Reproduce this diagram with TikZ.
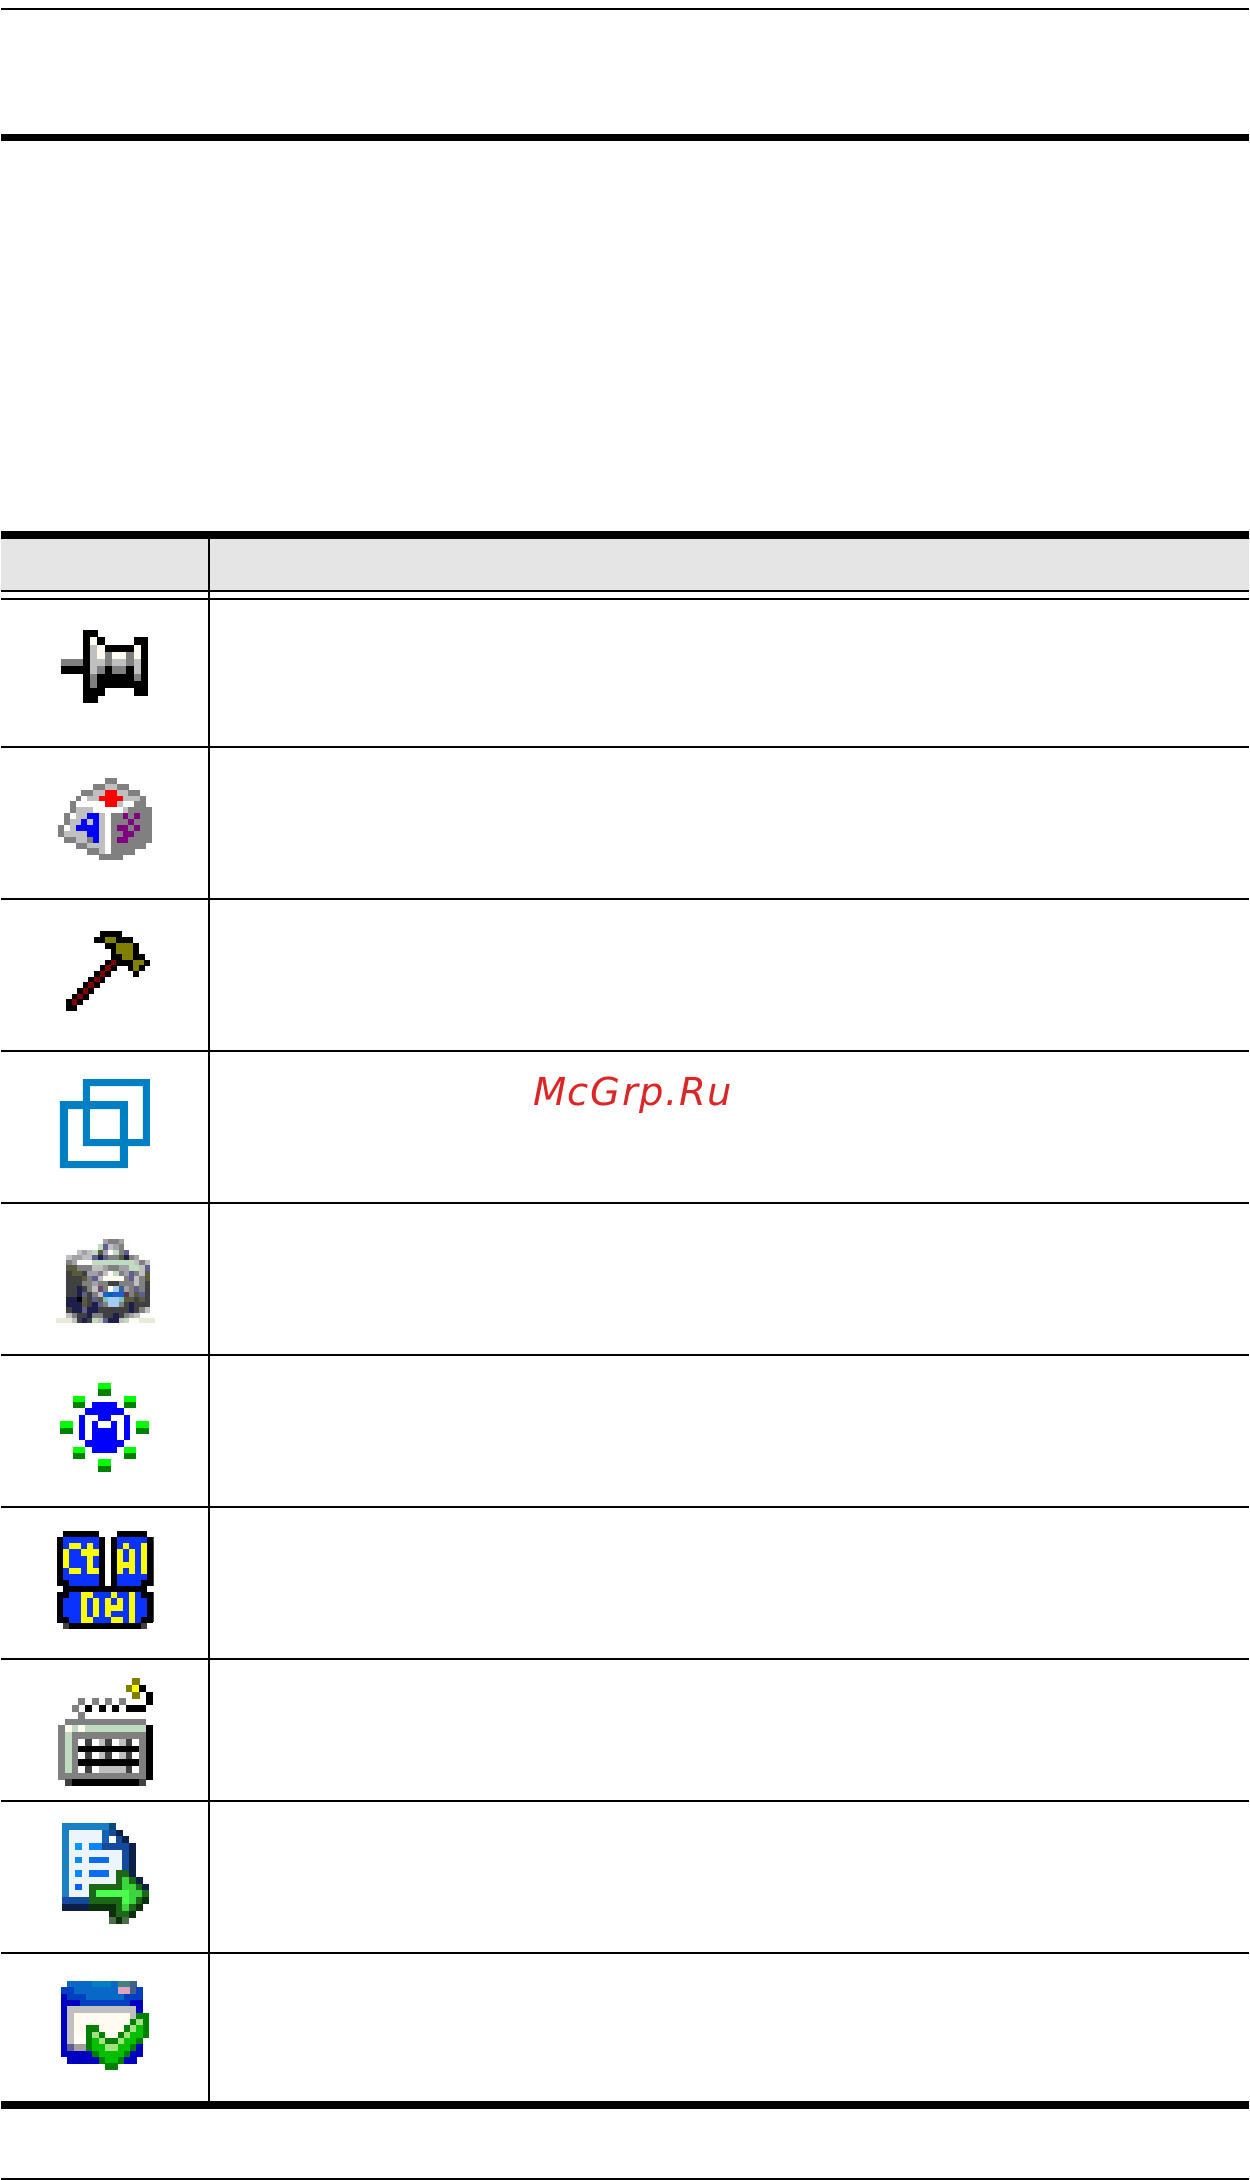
\documentclass[tikz,border=0pt]{standalone}
\usepackage{fontspec}
\newfontfamily\wmfont[LetterSpace=4.0]{DejaVu Sans}
\newcount\pxc
\newcount\pyc
\def\pxnext#1{\ifx#1\relax\else\if#1.\else\fill[fill=px#1] (\the\pxc,\the\pyc) rectangle +(1.04,1.04);\fi\advance\pxc by 1 \expandafter\pxnext\fi}
\def\pr#1{\pxc=0 \pxnext#1\relax\advance\pyc by 1 }
\newcommand\pal[2]{\definecolor{px#1}{HTML}{#2}}
\newcommand\zr[5]{\fill[fill=#1] (#2,#3) rectangle (#4,#5);}
\tikzset{
  rulefill/.style={fill=black},
  icongrid/.style args={#1/#2/#3/#4}{shift={(#1pt,-#2pt)},x=#3pt,y=-#4pt},
  zoomgrid/.style={shift={(0pt,-#1pt)},x=0.33333pt,y=-0.33333pt},
  watermark/.style={anchor=base west,inner sep=0pt,text=wmred,font=\wmfont\itshape\fontsize{38.5}{40}\selectfont}
}
\definecolor{wmred}{HTML}{DC2626}
\definecolor{headgray}{HTML}{E5E5E5}
\definecolor{winblue}{HTML}{0080C4}
\definecolor{ledhi}{HTML}{00FF00}
\definecolor{ledlo}{HTML}{008000}
\definecolor{ledblue}{HTML}{0000FF}
\begin{document}
\begin{tikzpicture}[x=1pt,y=-1pt]
\useasboundingbox (0,0) rectangle (1250,2180);
\fill[white] (0,0) rectangle (1250,2180);
% page rules
\fill[rulefill] (1,8) rectangle (1249,10);
\fill[rulefill] (1,134) rectangle (1249,141);
\fill[rulefill] (1,2178) rectangle (1249,2180);
% table
\fill[headgray] (1,538) rectangle (1249,590);
\fill[rulefill] (1,531) rectangle (1249,538.7);
\fill[rulefill] (1,2101) rectangle (1249,2109);
\fill[rulefill] (208.3,538) rectangle (210.3,2102);
\foreach \yy in {590,598,746,898,1050,1202,1354,1506,1658,1800,1952}
  \fill[rulefill] (1,\yy) rectangle (1249,\yy+2);
% pin
\begin{scope}[icongrid=61/630/7.25/7.25]
\pal{k}{000000}\pal{w}{FFFBF0}\pal{l}{C0C0C0}\pal{g}{808080}
\pyc=0
\pr{...kk.......}
\pr{...kwk....kk}
\pr{...klwkkkkwk}
\pr{...klwgwwgwk}
\pr{gggkllgllglk}
\pr{kkkklgkggklk}
\pr{...kgkkkkkgk}
\pr{...kgkkkkkkk}
\pr{...kkk....kk}
\pr{...kk.......}
\end{scope}
% compass
\begin{scope}[icongrid=58/778/5.87/5.87]
\pal{g}{808080}\pal{l}{C0C0C0}\pal{w}{FFFFFF}\pal{r}{FF0000}\pal{b}{0000FF}\pal{p}{800080}
\pyc=0
\pr{........gg......}
\pr{......ggllgg....}
\pr{....ggllrrllgg..}
\pr{...gwllrrrrlllg.}
\pr{..gwwwwwrrlwwgg.}
\pr{..glllwwwwwlgggg}
\pr{.gwllbblwggpgpgg}
\pr{.gllblblwgggpggg}
\pr{gwlbbbblwgppgpgg}
\pr{gllllbblwggppggg}
\pr{.ggllgblwgppgggg}
\pr{...gglllwgggggg.}
\pr{.....gglwgggg...}
\pr{.......gggg.....}
\end{scope}
% hammer
\begin{scope}[icongrid=66/931.3/5.6/5.67]
\pal{k}{000000}\pal{o}{808000}\pal{R}{800000}
\pyc=0
\pr{......kkkk.....}
\pr{.....kkookkk...}
\pr{.......kkoook..}
\pr{........koook..}
\pr{........kkookk.}
\pr{.......kRkkkook}
\pr{......kRk..kok.}
\pr{.....kRk....k..}
\pr{....kRk........}
\pr{...kRk.........}
\pr{..kRk..........}
\pr{.kRk...........}
\pr{kRk............}
\pr{kk.............}
\end{scope}
% overlapping windows
\begin{scope}[zoomgrid=1050]
\fill[winblue,even odd rule] (249,87) rectangle (450,288) (270,108) rectangle (429,267);
\fill[winblue,even odd rule] (180,153) rectangle (384,354) (204,177) rectangle (360,333);
\end{scope}
% camera
\begin{scope}[icongrid=56/1239/5.21/5.25]
\pal{w}{FFFFFF}\pal{c}{FFFBF0}\pal{e}{ECE9D8}\pal{l}{C0C0C0}\pal{s}{A4A0A8}\pal{g}{808080}
\pal{d}{404040}\pal{n}{1E1E4A}\pal{o}{5A5A3C}\pal{m}{C0DCC0}\pal{p}{5F5F8F}\pal{h}{6A4A70}
\pal{b}{1E60C8}\pal{B}{0060C0}\pal{a}{A6CAF0}\pal{t}{80C0C0}\pal{k}{000000}\pal{u}{3A6090}\pal{x}{5A3A4A}
\pyc=0
\pr{.........sggs......}
\pr{........mplsgc.....}
\pr{....lslmoswmgp.....}
\pr{..lssllpnpggongsc..}
\pr{..gswwwmmmmmmmmlgl.}
\pr{..oogggllsggssmmlp.}
\pr{..doodssglwmgspglo.}
\pr{..dddogplccccgplgo.}
\pr{..dddggsggddggglgd.}
\pr{..ddndglhgwausgpgd.}
\pr{..ddnpdglbBbbxgopd.}
\pr{..nnkodpotaatoodod.}
\pr{..nnnodnpgaagdnddd.}
\pr{..dnnpnnddddddndgl.}
\pr{..lgddnggddndgsl...}
\pr{eeeldndmlpnnlmcceee}
\end{scope}
% blue light with green LEDs
\begin{scope}[zoomgrid=1350]
\zr{ledhi}{294}{99}{333}{117}\zr{ledlo}{294}{117}{333}{138}
\zr{ledhi}{219}{138}{255}{156}\zr{ledlo}{219}{156}{255}{174}
\zr{ledhi}{372}{138}{408}{156}\zr{ledlo}{372}{156}{408}{174}
\zr{ledhi}{180}{213}{219}{234}\zr{ledlo}{180}{234}{219}{252}
\zr{ledhi}{408}{213}{447}{234}\zr{ledlo}{408}{234}{447}{252}
\zr{ledhi}{219}{291}{255}{309}\zr{ledlo}{219}{309}{255}{327}
\zr{ledhi}{372}{291}{408}{309}\zr{ledlo}{372}{309}{408}{327}
\zr{ledhi}{294}{327}{333}{348}\zr{ledlo}{294}{348}{333}{366}
\zr{ledblue}{276}{156}{351}{175}
\zr{ledblue}{255}{174}{372}{196}
\zr{ledblue}{237}{195}{255}{271}
\zr{ledblue}{372}{195}{390}{271}
\zr{ledblue}{294}{195}{333}{214}
\zr{ledblue}{276}{213}{294}{235}
\zr{ledblue}{333}{213}{351}{235}
\zr{ledblue}{276}{234}{351}{271}
\zr{ledblue}{255}{270}{372}{292}
\zr{ledblue}{276}{291}{351}{309}
\end{scope}
% Ctrl Alt Del
\begin{scope}[zoomgrid=1350]
\zr{black!70}{459}{561}{462}{708}
\zr{black!70}{459}{726}{462}{816}
\end{scope}
\begin{scope}[icongrid=57/1531/6/6.125]
\pal{k}{000000}\pal{B}{0A32FF}\pal{Y}{FFFF00}\pal{d}{404040}
\pyc=0
\pr{.kkkkkk...kkkkk.}
\pr{kBBBBBBk.kBBBBBk}
\pr{kBYYBYBk.kBYBBYk}
\pr{kYBBYYYk.kYBYBYk}
\pr{kYBBBYBk.kYBYBYk}
\pr{kYBBBYBk.kYYYBYk}
\pr{kBYYBYYk.kYBYBYk}
\pr{kBBBBBBk.kBBBBBk}
\pr{kkBBBBBk.kBBBBkk}
\pr{.kkkkkkkkkkkkkk.}
\pr{kkBBYYBBBYBBYBkk}
\pr{kBBBYBYBYBYBYBBk}
\pr{kBBBYBYBYYYBYBBk}
\pr{kBBBYBYBYBBBYBBk}
\pr{kkBBYYBBBYYBYBkk}
\pr{.dkkkkkkkkkkkkd.}
\end{scope}
% keyboard
\begin{scope}[icongrid=58/1678/6.77/6.75]
\pal{k}{000000}\pal{o}{808000}\pal{Y}{FFFF00}\pal{g}{808080}\pal{c}{FFFBF0}\pal{m}{C0DCC0}
\pal{w}{FFFFFF}\pal{d}{404040}\pal{l}{C0C0C0}
\pyc=0
\pr{...........o..}
\pr{..........oYk.}
\pr{...........o.k}
\pr{...g.g.g.g...k}
\pr{..g.k.k.k.kkk.}
\pr{...g..........}
\pr{.gggggggggggg.}
\pr{gcmcmmmmmmmmmk}
\pr{gmgggggggggggk}
\pr{gmgwdwldwldwgk}
\pr{gmgkkkkkkkkkgk}
\pr{gmgwdwldwldwgk}
\pr{gmgkkkkkkkkkgk}
\pr{gmgwdwlllldwgk}
\pr{gggggggggggggk}
\pr{.dkkkkkkkkkkd.}
\end{scope}
% document with arrow
\begin{scope}[icongrid=62/1823/6.7/6.73]
\pal{e}{1A80C4}\pal{f}{0C4878}\pal{P}{EEF4FC}\pal{D}{1860B0}\pal{B}{144A9C}\pal{N}{0C2048}\pal{W}{FFFFFF}
\pal{a}{0098FF}\pal{b}{0A88FF}\pal{c}{0060FF}\pal{h}{0A84FF}\pal{i}{0A6CF0}
\pal{G}{1C6818}\pal{x}{3CD63C}\pal{L}{4CFF4C}\pal{V}{0C300C}\pal{d}{4C6C4C}\pal{E}{1848A8}
\pyc=0
\pr{eeeeeeef.....}
\pr{ePPPPPDBN....}
\pr{ePPPPPDWBN...}
\pr{ePaPhhBBBBN..}
\pr{ePPPPPPPPBN..}
\pr{ePbPiiiPPBN..}
\pr{ePPPPPPPPBN..}
\pr{ePbPiiiPGGN..}
\pr{ePPPPPPPGxGN.}
\pr{ePcPGGGGGxxGN}
\pr{ePPPGLLLLLxxG}
\pr{EBBBGGGGGLxGV}
\pr{NNNNVVVVGxGV.}
\pr{.......VGGV..}
\pr{.......dVd...}
\end{scope}
% window with check mark
\begin{scope}[icongrid=61/1981/6.29/6.33]
\pal{T}{0868C8}\pal{t}{0080C0}\pal{a}{408080}\pal{b}{406088}\pal{P}{E0A0C0}\pal{D}{0040C0}\pal{N}{0000C0}
\pal{L}{C0C0C0}\pal{C}{FFFBF0}\pal{G}{008000}\pal{g}{00C000}\pal{l}{A4E080}\pal{w}{FFFFFF}\pal{s}{A4A0A0}\pal{p}{606090}
\pyc=0
\pr{.TTTTtttTaab..}
\pr{DDTTTTTTTPPbD.}
\pr{NDDDTTTTTTDDD.}
\pr{NNNDDDDDDDDNN.}
\pr{NLLLLLLLLLLLN.}
\pr{NLCCCCCCCCCLGG}
\pr{NLCCCCCCCCCGlG}
\pr{NLCCGGCCCCGlgG}
\pr{NLCCGlGCCGlggG}
\pr{NLwwGglGGlggG.}
\pr{NpssGggllggGN.}
\pr{NNNNNGggggGNN.}
\pr{.NNNNNGggGNN..}
\pr{.......GG.....}
\end{scope}
\node[watermark] (wm) at (533,1105) {McGrp.Ru};
\end{tikzpicture}
\end{document}
